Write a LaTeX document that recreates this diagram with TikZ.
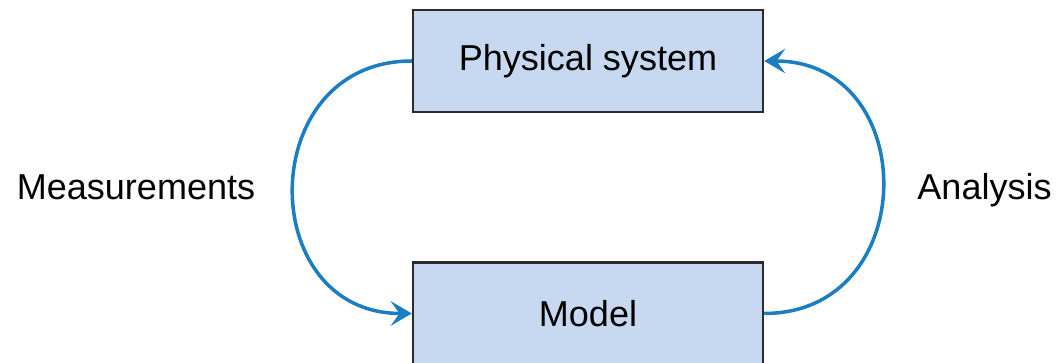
\documentclass[tikz,border=0pt]{standalone}
\usepackage{fontspec}
\setmainfont{Liberation Sans}
\usepackage{xcolor}
\usepackage{tikz}
\usetikzlibrary{arrows.meta,positioning}

\definecolor{boxfill}{HTML}{C6D9F0}
\definecolor{boxline}{HTML}{2B2B2B}
\definecolor{loopblue}{HTML}{1B7DC2}

\begin{document}
\begin{tikzpicture}[
  node distance=2.96cm,
  stage/.style={draw=boxline, line width=1.4pt, fill=boxfill, minimum width=7cm, minimum height=2.04cm, font=\fontsize{20.5}{24}\selectfont},
  sidelabel/.style={font=\fontsize{20.5}{24}\selectfont, anchor=base, inner sep=0pt},
  loop/.style={->, draw=loopblue, line width=2pt, looseness=1.6, >={Stealth[length=12pt,width=14pt,inset=5pt]}}
]
\useasboundingbox (0,0) rectangle (21.16,7.24);

\node[stage] (physical) at (11.76,6.02) {Physical system};
\node[stage, below=of physical] (model) {Model};

\node[sidelabel] (meas) at (2.72,3.26) {Measurements};
\node[sidelabel] (anal) at (19.69,3.26) {Analysis};

\draw[loop] (physical.west) to[out=180,in=180] (model.west);
\draw[loop] (model.east) to[out=0,in=0] (physical.east);

\end{tikzpicture}
\end{document}
